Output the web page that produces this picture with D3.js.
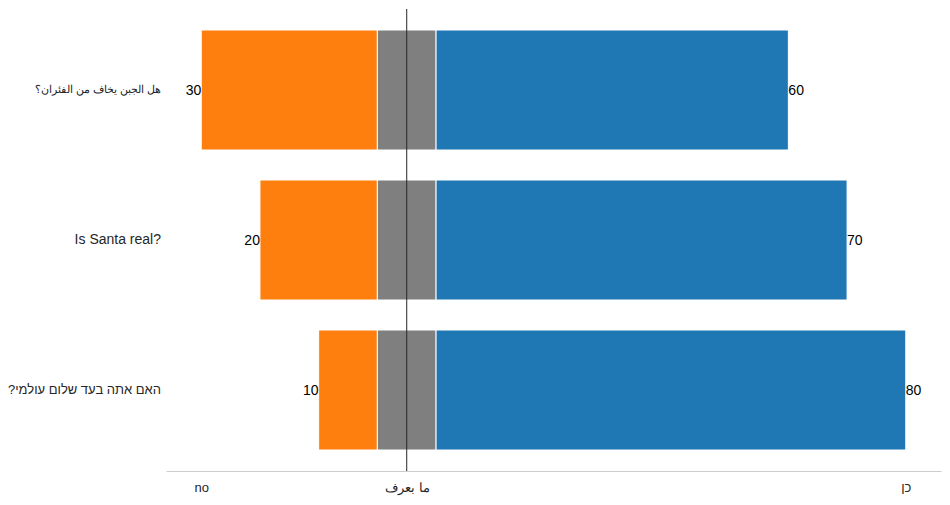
<!DOCTYPE html>
<html><head><meta charset="utf-8">
<script src="https://cdn.jsdelivr.net/npm/d3@7"></script>
<style>
html,body{margin:0;padding:0;background:#fff;}
text{font-family:"Liberation Sans",Arial,sans-serif;}
</style></head>
<body><svg id="chart" width="950" height="505"></svg>
<script>
const categories = ["هل الجبن يخاف من الفئران؟", "Is Santa real?", "האם אתה בעד שלום עולמי?"];
const noValues = [30, 20, 10];
const neutralValues = [10, 10, 10];
const yesValues = [60, 70, 80];
const xTickValues = [-35, 0, 85];
const xTickLabels = ["no", "ما بعرف", "כן"];
const colors = {no: "#ff7f0e", neutral: "#7f7f7f", yes: "#1f77b4"};

const svg = d3.select("#chart");
const x = d3.scaleLinear().domain([-41, 91]).range([166, 941]);
const y = d3.scaleBand().domain(categories).range([9, 471]).paddingInner(0.2).paddingOuter(0.14);

const rows = categories.map((c, i) => {
  const n = neutralValues[i];
  return {c, no: noValues[i], neu: n, yes: yesValues[i],
    noStart: -n/2 - noValues[i], neuStart: -n/2, yesStart: n/2, yesEnd: n/2 + yesValues[i]};
});

const g = svg.append("g");
rows.forEach(r => {
  const segs = [
    {x0: r.noStart, x1: r.neuStart, col: colors.no},
    {x0: r.neuStart, x1: r.yesStart, col: colors.neutral},
    {x0: r.yesStart, x1: r.yesEnd, col: colors.yes}
  ];
  g.selectAll(null).data(segs).enter().append("rect")
    .attr("x", d => x(d.x0)).attr("width", d => x(d.x1) - x(d.x0))
    .attr("y", y(r.c)).attr("height", y.bandwidth())
    .attr("fill", d => d.col).attr("stroke", "#fff").attr("stroke-width", 1);
  g.append("text").attr("x", x(r.noStart)).attr("y", y(r.c) + y.bandwidth()/2)
    .attr("text-anchor", "end").attr("dy", "0.35em").attr("font-size", 14).attr("fill", "#000")
    .text(r.no);
  g.append("text").attr("x", x(r.yesEnd)).attr("y", y(r.c) + y.bandwidth()/2)
    .attr("text-anchor", "start").attr("dy", "0.35em").attr("font-size", 14).attr("fill", "#000")
    .text(r.yes);
});

// zero line
svg.append("line").attr("x1", x(0)).attr("x2", x(0)).attr("y1", 9).attr("y2", 471)
  .attr("stroke", "#262626").attr("stroke-width", 1);

// x axis
const xAxis = d3.axisBottom(x).tickValues(xTickValues).tickSize(0).tickPadding(12)
  .tickFormat((d, i) => xTickLabels[i]);
const xa = svg.append("g").attr("transform", "translate(0,471)").call(xAxis);
xa.select(".domain").attr("stroke", "#cccccc");
xa.selectAll("text").attr("font-size", 13).attr("fill", "#262626").attr("font-family", "'Liberation Sans',Arial,sans-serif");

// y labels
const rtl = s => /[\u0590-\u06FF]/.test(s);
const arabic = s => /[\u0600-\u06FF]/.test(s);
const yAxis = d3.axisLeft(y).tickSize(0).tickPadding(0);
const ya = svg.append("g").attr("transform", "translate(161,0)").call(yAxis);
ya.select(".domain").remove();
ya.selectAll("text").attr("font-size", d => arabic(d) ? 10.5 : (rtl(d) ? 13 : 14)).attr("fill", "#262626")
  .attr("font-family", "'Liberation Sans',Arial,sans-serif")
  .attr("x", 0)
  .attr("direction", d => rtl(d) ? "rtl" : "ltr")
  .attr("text-anchor", d => rtl(d) ? "start" : "end");
</script></body></html>
